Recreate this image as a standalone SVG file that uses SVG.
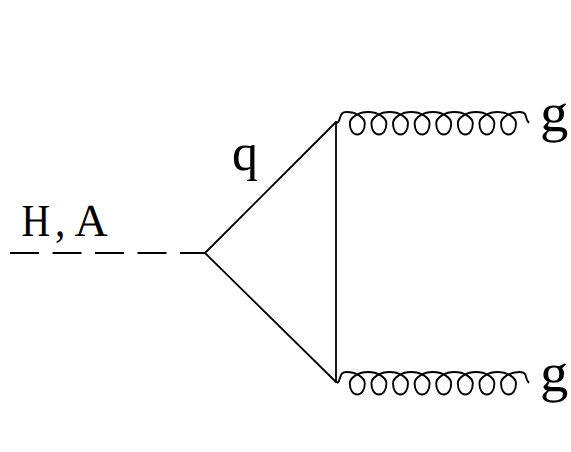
<svg xmlns="http://www.w3.org/2000/svg" width="571" height="452" viewBox="0 0 571 452">
<defs>
<style>
.l{fill:none;stroke:#000;stroke-width:1.8;stroke-linecap:round;stroke-linejoin:round}
.c{fill:none;stroke:#000;stroke-width:1.9;stroke-linecap:butt}
.t{font-family:"Liberation Serif","Times New Roman",serif;fill:#000;text-rendering:geometricPrecision}
</style>
<path id="coil" class="c" d="M337 123C340 122 339.500 116 342 113.500C343.500 112 345 112 346.500 112
c9 0 18.300 5 18.300 11.500c0 6.500 -3.300 11 -7.500 11c-4.200 0 -7.500 -4.500 -7.500 -11c0 -6.500 9.300 -11.500 18.300 -11.500
c9 0 18.300 5 18.300 11.500c0 6.500 -3.300 11 -7.500 11c-4.200 0 -7.500 -4.500 -7.500 -11c0 -6.500 9.300 -11.500 18.300 -11.500
c9 0 18.300 5 18.300 11.500c0 6.500 -3.300 11 -7.500 11c-4.200 0 -7.500 -4.500 -7.500 -11c0 -6.500 9.300 -11.500 18.300 -11.500
c9 0 18.300 5 18.300 11.500c0 6.500 -3.300 11 -7.500 11c-4.200 0 -7.500 -4.500 -7.500 -11c0 -6.500 9.300 -11.500 18.300 -11.500
c9 0 18.300 5 18.300 11.500c0 6.500 -3.300 11 -7.500 11c-4.200 0 -7.500 -4.500 -7.500 -11c0 -6.500 9.300 -11.500 18.300 -11.500
c9 0 18.300 5 18.300 11.500c0 6.500 -3.300 11 -7.500 11c-4.200 0 -7.500 -4.500 -7.500 -11c0 -6.500 9.300 -11.500 18.300 -11.500
c9 0 18.300 5 18.300 11.500c0 6.500 -3.300 11 -7.500 11c-4.200 0 -7.500 -4.500 -7.500 -11c0 -6.500 9.300 -11.500 18.300 -11.500
c9 0 18.300 5 18.300 11.500c0 6.500 -3.300 11 -7.500 11c-4.200 0 -7.500 -4.500 -7.500 -11c0 -6.500 9.300 -11.500 18.300 -11.500
c3 0 5 0.500 6 2.500c1 2.500 1.500 7.500 4 8"/>
</defs>
<g id="connectors">
<path id="higgs" class="l" style="stroke-linecap:butt" d="M10 253H205" stroke-dasharray="29 13.500"/>
<path id="quark-top" class="l" d="M205 253L336 122"/>
<path id="quark-side" class="l" d="M336 122V382"/>
<path id="quark-bottom" class="l" d="M205 253L336 382"/>
<use id="gluon-top" href="#coil"/>
<use id="gluon-bottom" href="#coil" y="260"/>
</g>
<g id="label-HA"><text class="t" font-size="46" transform="translate(21.500 236) scale(.86 1)">H</text><text class="t" font-size="46" transform="translate(55 236) scale(.9 1)">,</text><text class="t" font-size="46" transform="translate(74.500 236)">A</text></g>
<g id="label-q"><text class="t" font-size="52" x="232" y="170">q</text></g>
<g id="label-g-top"><text class="t" font-size="54" transform="translate(540 131) scale(1.05 1)">g</text></g>
<g id="label-g-bottom"><text class="t" font-size="54" transform="translate(540 391) scale(1.05 1)">g</text></g>
</svg>
